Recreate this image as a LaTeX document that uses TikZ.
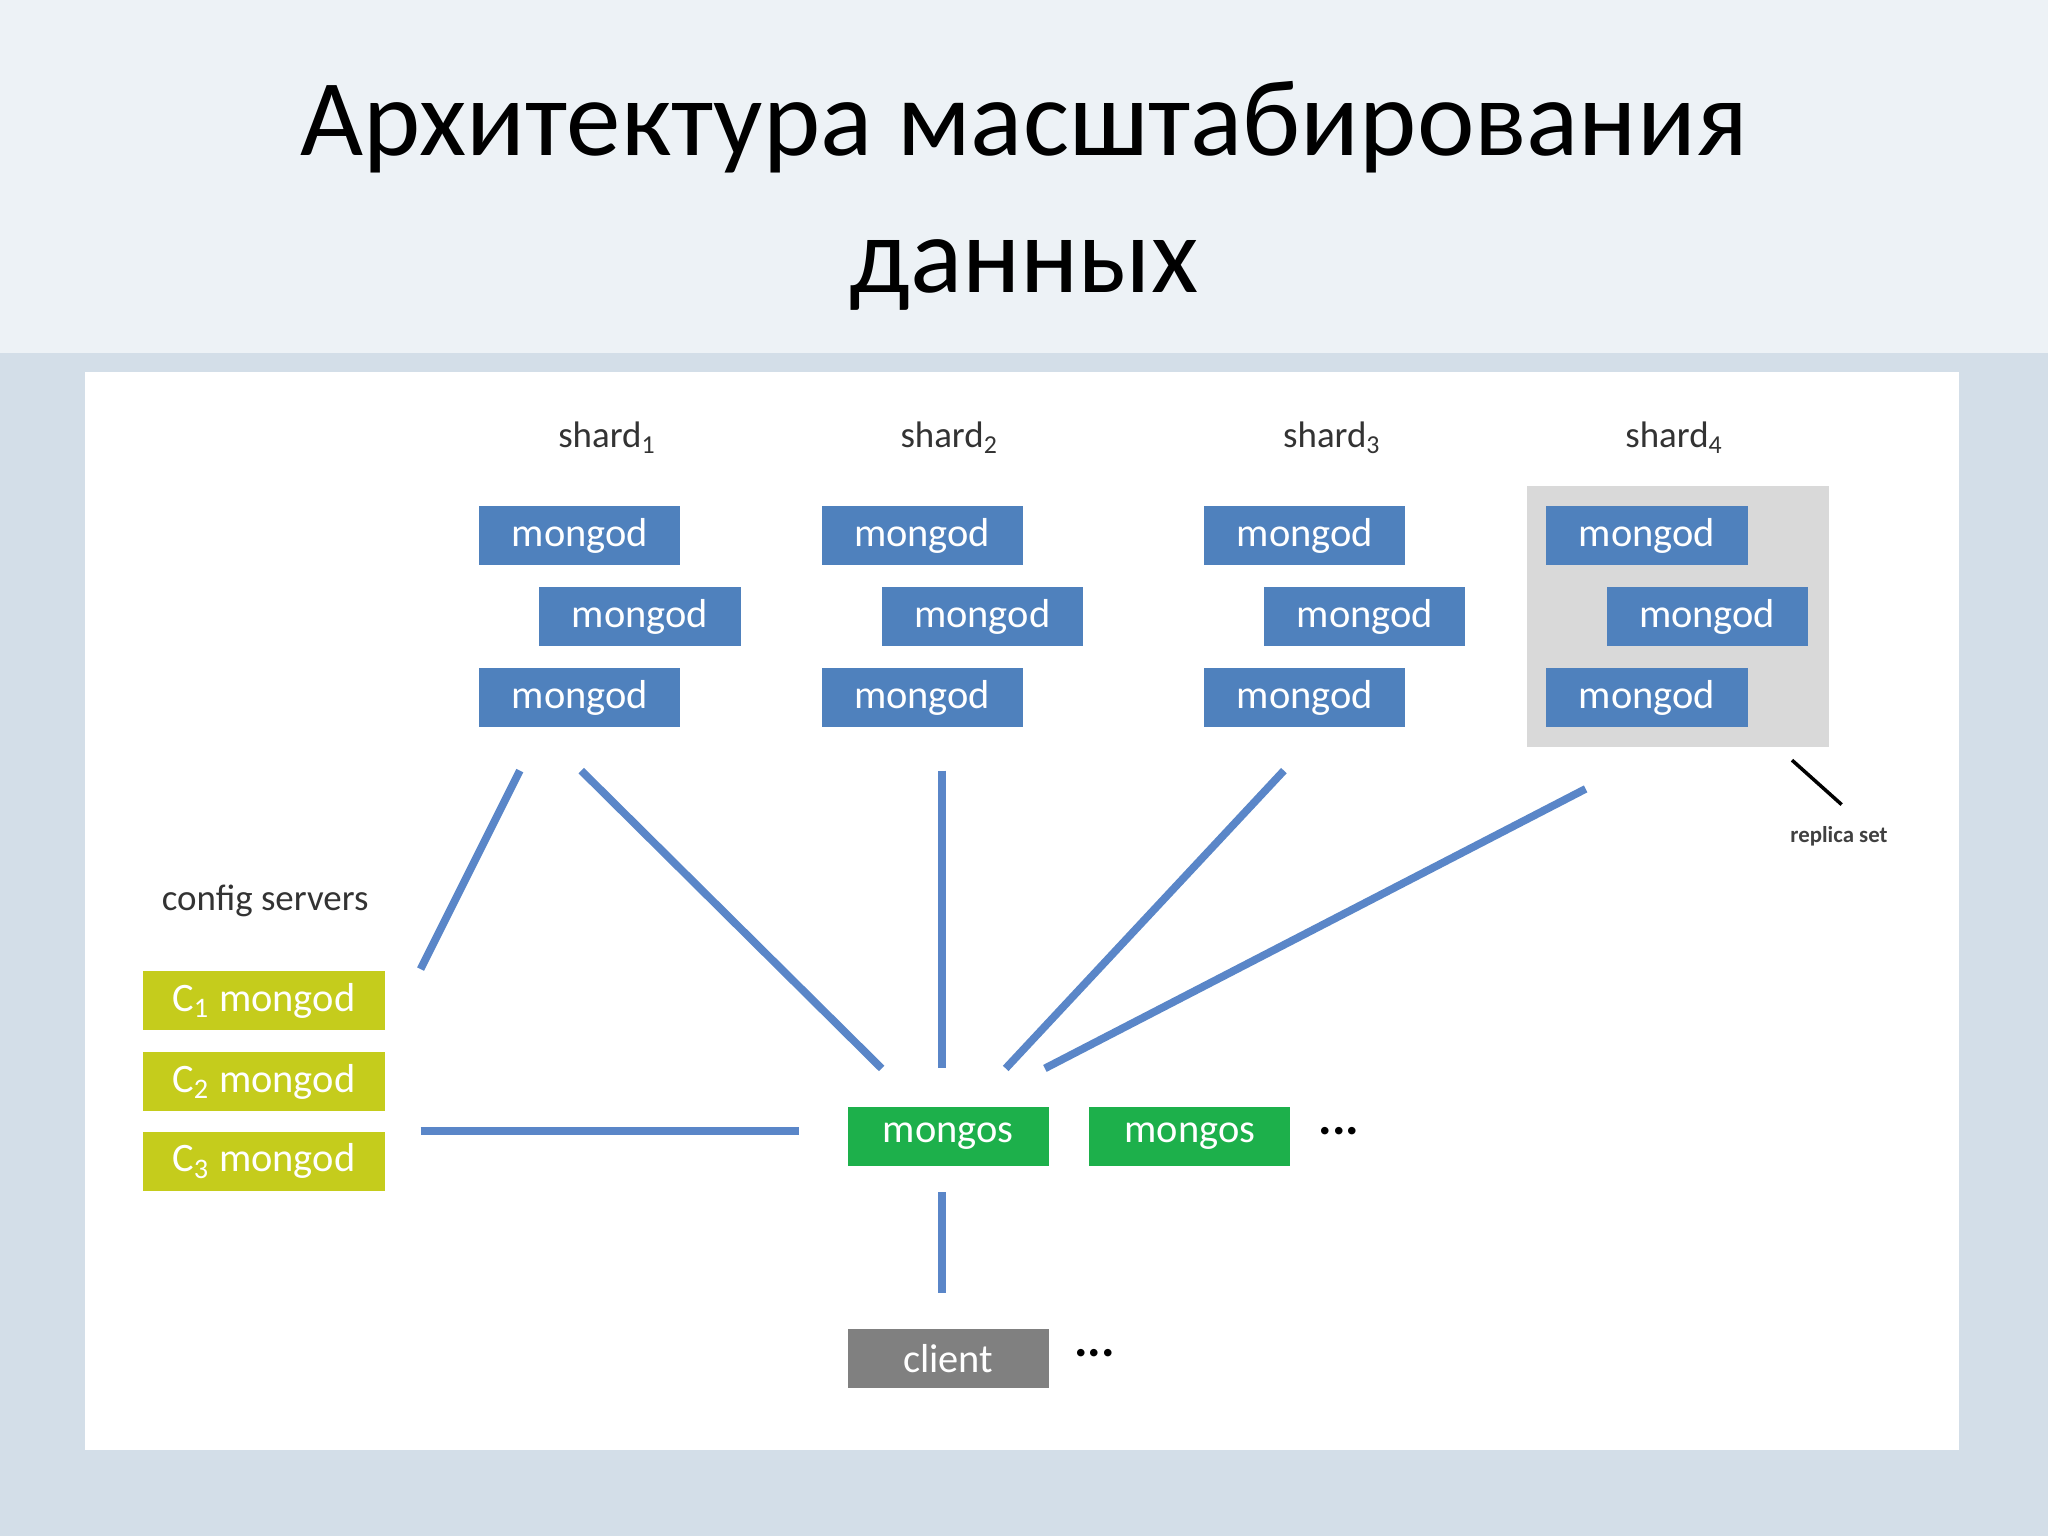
\documentclass[tikz,border=0pt]{standalone}
\usepackage{fontspec}
\setmainfont{Carlito}
\begin{document}
\begin{tikzpicture}[x=0.013061cm,y=-0.013061cm,
  mgd/.style={fill=mblue, text=white, minimum width=154*0.013061cm, minimum height=45*0.013061cm, inner sep=0, font=\fontsize{11.5}{13}\selectfont},
  cfg/.style={mgd, fill=cyel, minimum width=185*0.013061cm},
  mgs/.style={mgd, fill=mgreen},
  cli/.style={mgd, fill=mgray},
  lbl/.style={font=\fontsize{10.5}{12}\selectfont, text=black!80},
  ln/.style={draw=lblue, line width=2.2pt}]
\definecolor{mblue}{HTML}{4F81BD}
\definecolor{cyel}{HTML}{C5CC1C}
\definecolor{mgreen}{HTML}{1DB04B}
\definecolor{mgray}{HTML}{808080}
\definecolor{lblue}{HTML}{5A86C8}
\definecolor{sky}{HTML}{D3DEE8}
\useasboundingbox (0,0) rectangle (1568,1176);
\fill[sky] (0,0) rectangle (1568,1176);
\fill[white!60!sky] (0,0) rectangle (1568,270);
\fill[white] (65,285) rectangle (1500,1110);
\node[font=\fontsize{31}{39}\selectfont, align=center] (title) at (784,150) {Архитектура масштабирования\\данных};
\fill[black!15] (1169,372) rectangle (1400,572);
\foreach \i/\x in {1/367,2/629,3/922,4/1184}{
  \node[mgd] (a\i) at (\x+77,410) {mongod};
  \node[mgd] (b\i) at (\x+123,472) {mongod};
  \node[mgd] (c\i) at (\x+77,534) {mongod};
  \node[lbl] (s\i) at (\x+98,335) {shard\textsubscript{\i}};
}
\node[lbl] (cfgl) at (203,690) {config servers};
\node[cfg] (k1) at (202,766) {C\textsubscript{1} mongod};
\node[cfg] (k2) at (202,828) {C\textsubscript{2} mongod};
\node[cfg] (k3) at (202,889) {C\textsubscript{3} mongod};
\node[mgs] (m1) at (726,870) {mongos};
\node[mgs] (m2) at (911,870) {mongos};
\node[font=\bfseries\Large] (d1) at (1025,866) {...};
\node[cli] (cl) at (726,1040) {client};
\node[font=\bfseries\Large] (d2) at (838,1036) {...};
\node[font=\fontsize{6.5}{8}\selectfont\bfseries, text=black!75] (rs) at (1408,640) {replica set};
\coordinate (p1) at (398,590); \coordinate (q1) at (322,742);
\coordinate (p2) at (445,590); \coordinate (q2) at (675,818);
\coordinate (p3) at (721,590); \coordinate (q3) at (721,818);
\coordinate (p4) at (983,590); \coordinate (q4) at (770,818);
\coordinate (p5) at (1214,604); \coordinate (q5) at (800,818);
\coordinate (p6) at (322,866); \coordinate (q6) at (612,866);
\coordinate (p7) at (721,913); \coordinate (q7) at (721,990);
\coordinate (r1) at (1372,582); \coordinate (r2) at (1410,616);
\foreach \n in {1,...,7} \draw[ln] (p\n) -- (q\n);
\draw[line width=1pt] (r1) -- (r2);
\end{tikzpicture}
\end{document}
